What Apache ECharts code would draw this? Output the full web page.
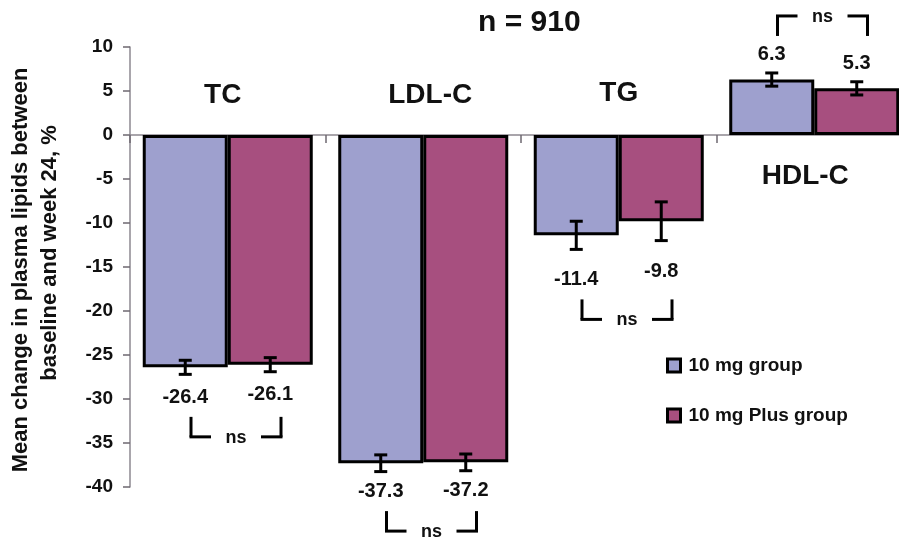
<!DOCTYPE html>
<html><head><meta charset="utf-8">
<script src="https://cdn.jsdelivr.net/npm/echarts@6/dist/echarts.min.js"></script>
<style>html,body{margin:0;padding:0;background:#fff}#c{width:899px;height:538px}</style>
</head><body><div id="c"></div>
<script>
// ---------------- data ----------------
const categories = ['TC', 'LDL-C', 'TG', 'HDL-C'];
const seriesNames = ['10 mg group', '10 mg Plus group'];
const group10 = [-26.4, -37.3, -11.4, 6.3];
const group10Plus = [-26.1, -37.2, -9.8, 5.3];
const err10 = [0.8, 0.95, 1.6, 0.75];
const err10Plus = [0.8, 0.95, 2.2, 0.75];
const comparison = ['ns', 'ns', 'ns', 'ns'];
const titleText = 'n = 910';
const yAxisLine1 = 'Mean change in plasma lipids between';
const yAxisLine2 = 'baseline and week 24, %';
const yMin = -40, yMax = 10, yStep = 5;

// ---------------- layout / style ----------------
const FONT = '"Liberation Sans", Arial, Helvetica, sans-serif';
const BLUE = '#9ea0ce', RED = '#a74f7f', INK = '#111';
const BAR_W = 85;
const labelGap = [23, 20, 30.5, 18.5];  // px between error-bar end and value label centre
const catLabelDx = [-5, 7, 0, -9];      // px nudges of category names
const catLabelLevel = [4.5, 4.5, 4.75, -4.65]; // value-units position of category names
const groupVals = [group10, group10Plus];
const groupErrs = [err10, err10Plus];

function errorRender(g) {
  return function (params, api) {
    const i = api.value(0), v = api.value(1), e = api.value(2);
    const cx = api.coord([i, 0])[0] + (g === 0 ? -1 : 1) * BAR_W / 2;
    const s = v < 0 ? -1 : 1;
    const yEnd = api.coord([i, v + s * e])[1];
    const yIn = api.coord([i, v - s * e])[1];
    const cap = 6.5;
    const st = { stroke: '#000', lineWidth: 3 };
    return { type: 'group', children: [
      { type: 'line', shape: { x1: cx, y1: yIn, x2: cx, y2: yEnd }, style: st },
      { type: 'line', shape: { x1: cx - cap, y1: yIn, x2: cx + cap, y2: yIn }, style: st },
      { type: 'line', shape: { x1: cx - cap, y1: yEnd, x2: cx + cap, y2: yEnd }, style: st },
      { type: 'text', x: cx, y: yEnd - s * labelGap[i], style: {
          text: String(v), textAlign: 'center', textVerticalAlign: 'middle',
          font: 'bold 20px ' + FONT, fill: INK } }
    ]};
  };
}

function annotRender(params, api) {
  const i = api.value(0);
  const band = api.size([1, 0])[0];
  const x0 = api.coord([i, 0])[0] - band / 2;
  const xl = x0 + 61, xr = x0 + 151, xm = x0 + 106;
  const neg = groupVals[0][i] < 0;
  const st = { stroke: '#000', lineWidth: 3 };
  let ly, top, bot, hy;
  if (neg) {
    ly = Math.max.apply(null, [0, 1].map(g => api.coord([i, groupVals[g][i] - groupErrs[g][i]])[1] + labelGap[i]));
    top = ly + 19.5; bot = top + 20; hy = bot;
  } else {
    ly = Math.min.apply(null, [0, 1].map(g => api.coord([i, groupVals[g][i] + groupErrs[g][i]])[1] - labelGap[i]));
    bot = ly - 18.5; top = bot - 20; hy = top;
  }
  const catY = api.coord([i, catLabelLevel[i]])[1];
  return { type: 'group', children: [
    { type: 'line', shape: { x1: xl, y1: top, x2: xl, y2: bot }, style: st },
    { type: 'line', shape: { x1: xr, y1: top, x2: xr, y2: bot }, style: st },
    { type: 'line', shape: { x1: xl - 1.5, y1: hy, x2: xl + 20, y2: hy }, style: st },
    { type: 'line', shape: { x1: xr - 20, y1: hy, x2: xr + 1.5, y2: hy }, style: st },
    { type: 'text', x: xm, y: hy + 1, style: { text: comparison[i], textAlign: 'center',
        textVerticalAlign: 'middle', font: 'bold 18px ' + FONT, fill: INK } },
    { type: 'text', x: x0 + band / 2 + catLabelDx[i], y: catY, style: { text: categories[i], textAlign: 'center',
        textVerticalAlign: 'middle', font: 'bold 28px ' + FONT, fill: INK } }
  ]};
}

const chart = echarts.init(document.getElementById('c'), null, { renderer: 'canvas' });
chart.setOption({
  animation: false,
  backgroundColor: '#fff',
  textStyle: { fontFamily: FONT },
  title: { text: titleText, left: 473, top: 3,
    textStyle: { fontSize: 30, fontWeight: 'bold', color: INK, fontFamily: FONT } },
  legend: {
    orient: 'vertical', left: 666, top: 356, padding: 0, itemWidth: 13, itemHeight: 13, itemGap: 31,
    icon: 'rect', data: seriesNames,
    textStyle: { fontSize: 19, fontWeight: 'bold', color: INK, fontFamily: FONT, padding: [0, 0, 0, 3] },
    itemStyle: { borderColor: '#000', borderWidth: 3 }
  },
  grid: { left: 130, top: 47, bottom: 51, width: 782, outerBoundsMode: 'none', containLabel: false },
  xAxis: {
    type: 'category', data: categories,
    axisLine: { onZero: true, lineStyle: { color: '#8d8890', width: 1.5 } },
    axisTick: { show: true, length: 8, lineStyle: { color: '#6e6870', width: 1.5 } },
    axisLabel: { show: false }, splitLine: { show: false }, z: 1
  },
  yAxis: {
    type: 'value', min: yMin, max: yMax, interval: yStep,
    name: '{a|' + yAxisLine1 + '}\n{b|' + yAxisLine2 + '}', nameLocation: 'middle', nameGap: 65.5,
    nameTextStyle: { fontSize: 22, fontWeight: 'bold', color: INK, fontFamily: FONT, lineHeight: 29, align: 'center',
      rich: {
        a: { fontSize: 22, fontWeight: 'bold', color: INK, fontFamily: FONT, lineHeight: 29, padding: [0, 6, 0, 0] },
        b: { fontSize: 22, fontWeight: 'bold', color: INK, fontFamily: FONT, lineHeight: 29, padding: [0, 0, 0, 28] }
      } },
    axisLine: { show: true, lineStyle: { color: '#8d8890', width: 1.5 } },
    axisTick: { show: true, length: 7, lineStyle: { color: '#6e6870', width: 1.5 } },
    axisLabel: { fontSize: 19, fontWeight: 'bold', color: INK, margin: 17, fontFamily: FONT },
    splitLine: { show: false }
  },
  series: [
    { name: seriesNames[0], type: 'bar', data: group10, barWidth: BAR_W, barGap: '0%',
      itemStyle: { color: BLUE, borderColor: '#000', borderWidth: 3 }, z: 2 },
    { name: seriesNames[1], type: 'bar', data: group10Plus, barWidth: BAR_W, barGap: '0%',
      itemStyle: { color: RED, borderColor: '#000', borderWidth: 3 }, z: 2 },
    { type: 'custom', name: 'err0', renderItem: errorRender(0), z: 5,
      data: categories.map((c, i) => [i, group10[i], err10[i]]), encode: { x: 0, y: 1 } },
    { type: 'custom', name: 'err1', renderItem: errorRender(1), z: 5,
      data: categories.map((c, i) => [i, group10Plus[i], err10Plus[i]]), encode: { x: 0, y: 1 } },
    { type: 'custom', name: 'annot', renderItem: annotRender, z: 5,
      data: categories.map((c, i) => [i, 0]), encode: { x: 0, y: 1 } }
  ]
});
</script></body></html>
